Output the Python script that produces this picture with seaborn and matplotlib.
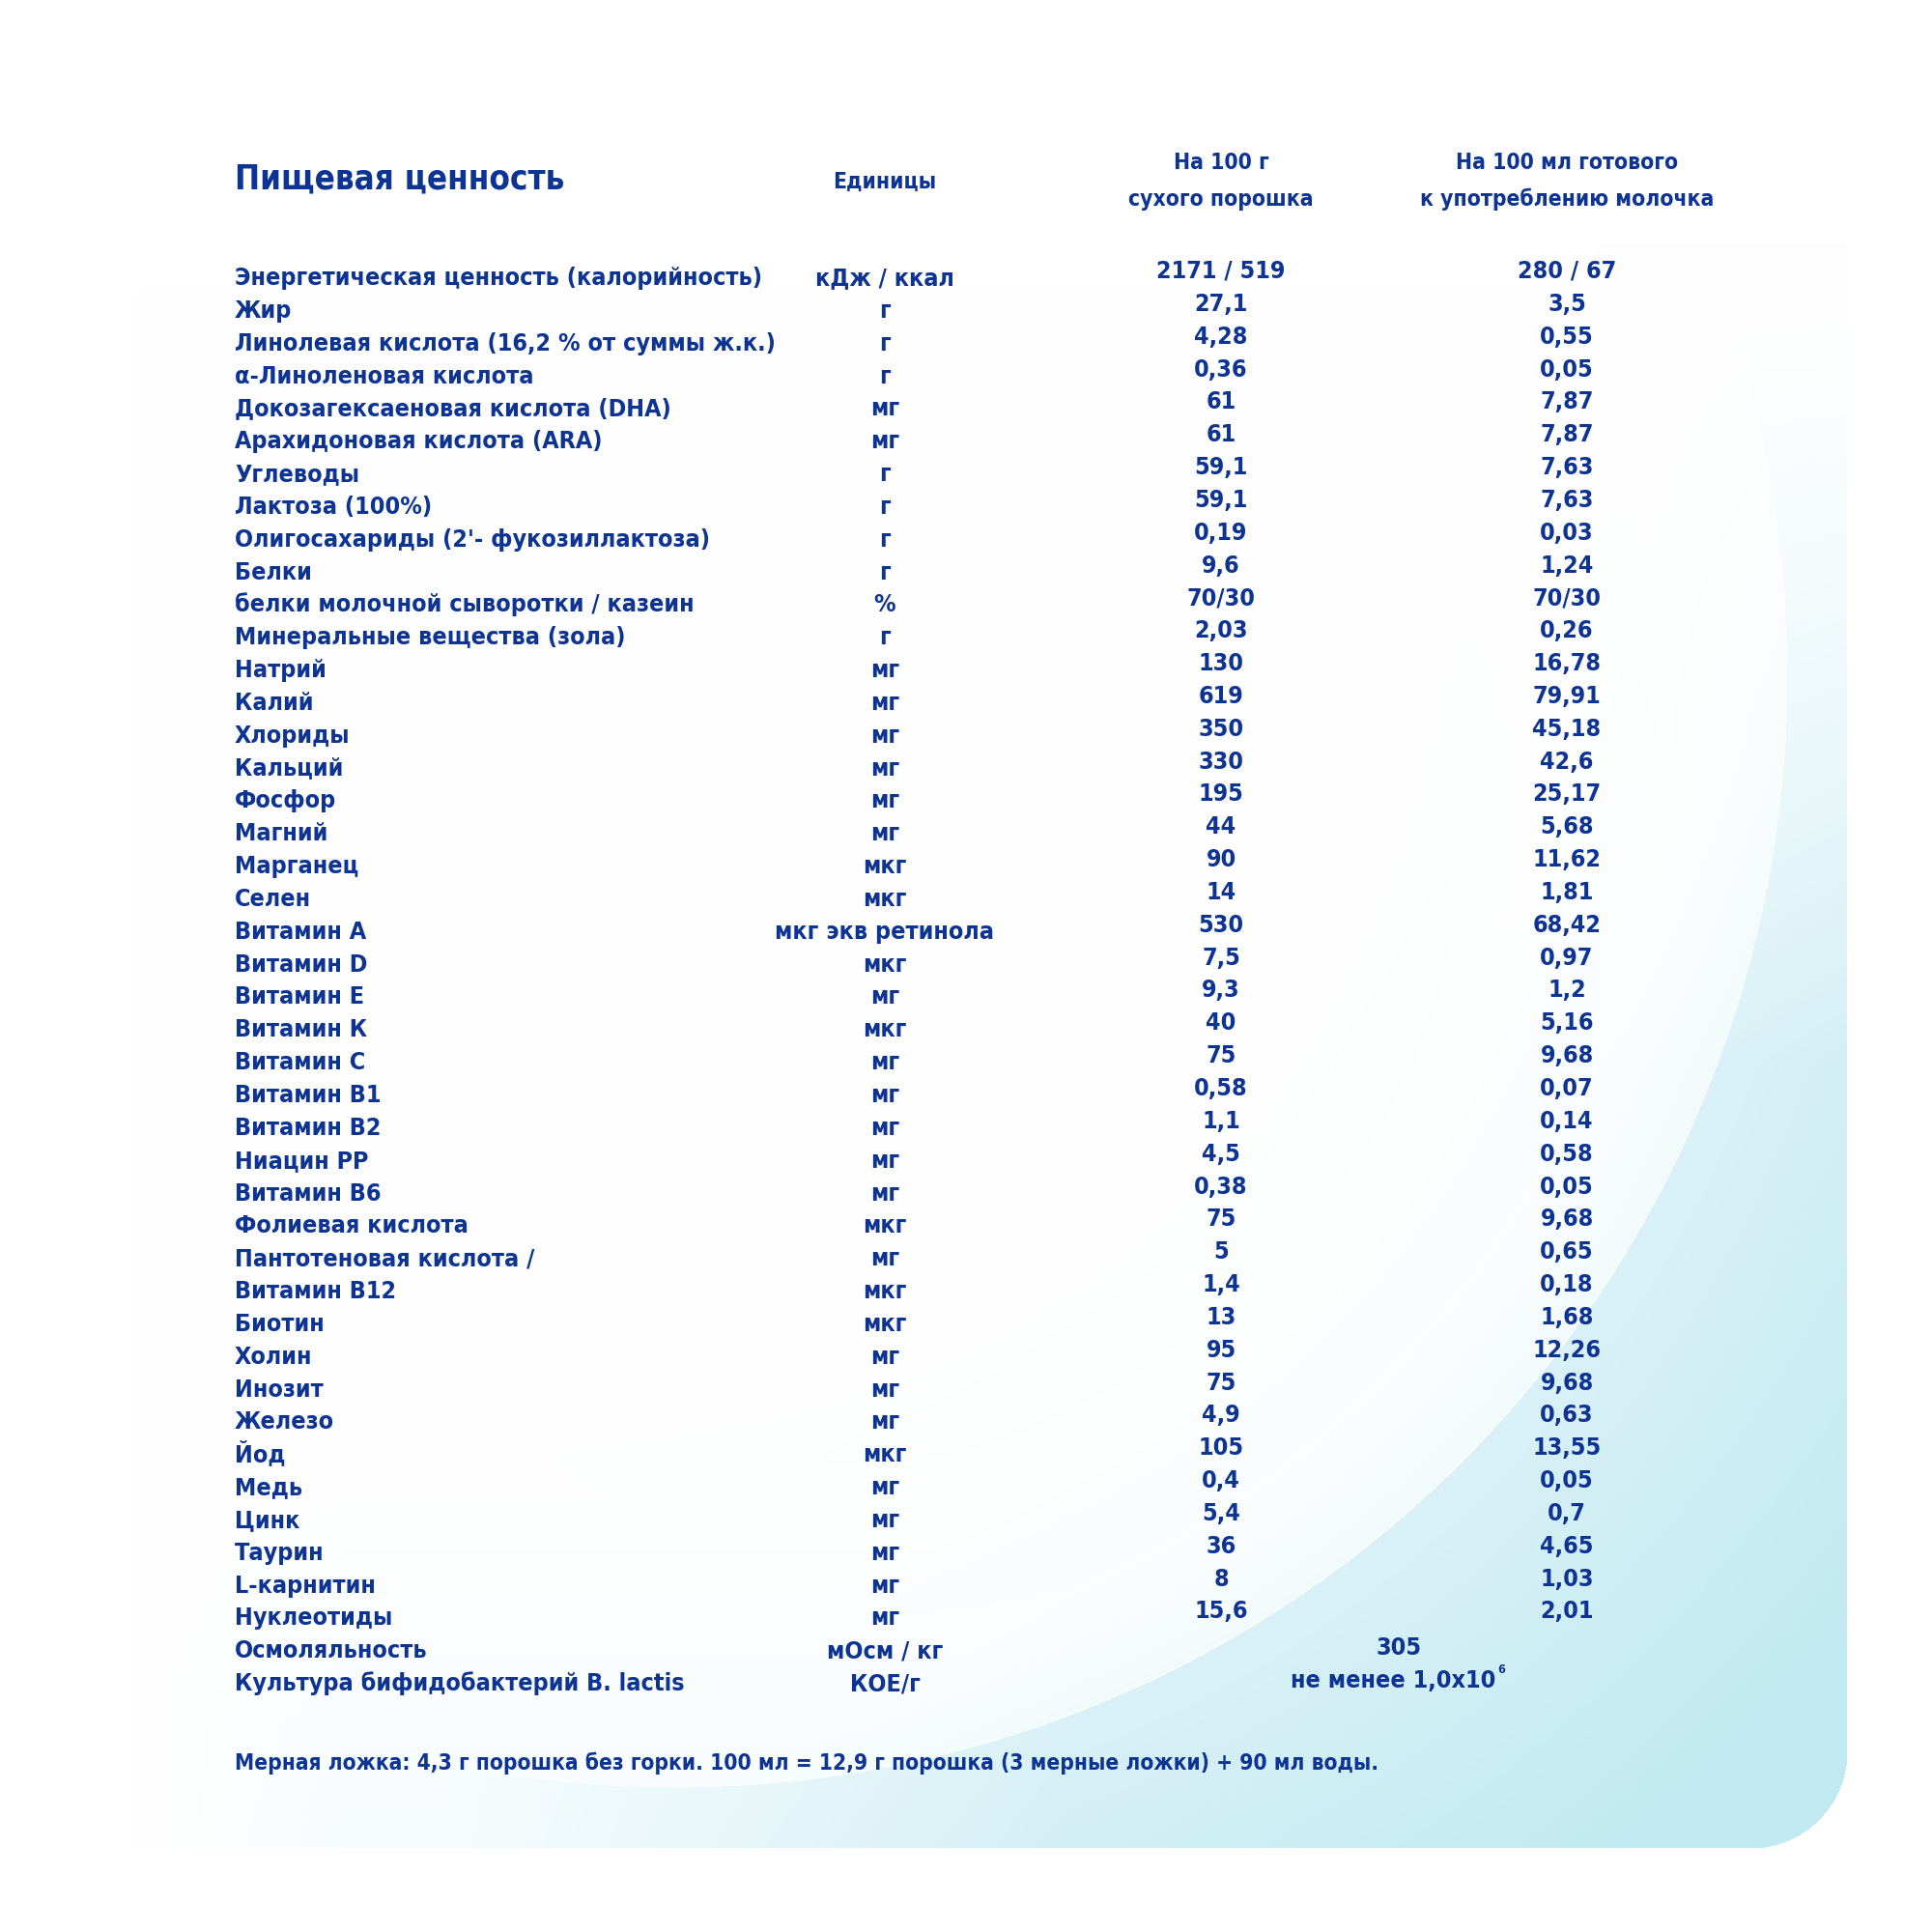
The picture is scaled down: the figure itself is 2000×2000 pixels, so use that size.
import os
import numpy as np
import pandas as pd
import matplotlib
matplotlib.use("Agg")
import matplotlib.pyplot as plt
import matplotlib.font_manager as fm
import seaborn as sns

# ---------------- data ----------------
title = "Пищевая ценность"
header_units = "Единицы"
header_dry = ["На 100 г", "сухого порошка"]
header_ready = ["На 100 мл готового", "к употреблению молочка"]

nutrients = [
    "Энергетическая ценность (калорийность)", "Жир",
    "Линолевая кислота (16,2 % от суммы ж.к.)", "α-Линоленовая кислота",
    "Докозагексаеновая кислота (DHA)", "Арахидоновая кислота (ARA)",
    "Углеводы", "Лактоза (100%)", "Олигосахариды (2'- фукозиллактоза)",
    "Белки", "белки молочной сыворотки / казеин", "Минеральные вещества (зола)",
    "Натрий", "Калий", "Хлориды", "Кальций", "Фосфор", "Магний", "Марганец",
    "Селен", "Витамин А", "Витамин D", "Витамин Е", "Витамин К", "Витамин С",
    "Витамин В1", "Витамин В2", "Ниацин РР", "Витамин В6", "Фолиевая кислота",
    "Пантотеновая кислота /", "Витамин В12", "Биотин", "Холин", "Инозит",
    "Железо", "Йод", "Медь", "Цинк", "Таурин", "L-карнитин", "Нуклеотиды",
    "Осмоляльность", "Культура бифидобактерий B. lactis",
]
units = [
    "кДж / ккал", "г", "г", "г", "мг", "мг", "г", "г", "г", "г", "%", "г",
    "мг", "мг", "мг", "мг", "мг", "мг", "мкг", "мкг", "мкг экв ретинола",
    "мкг", "мг", "мкг", "мг", "мг", "мг", "мг", "мг", "мкг", "мг", "мкг",
    "мкг", "мг", "мг", "мг", "мкг", "мг", "мг", "мг", "мг", "мг",
    "мОсм / кг", "КОЕ/г",
]
per_100g = [
    "2171 / 519", "27,1", "4,28", "0,36", "61", "61", "59,1", "59,1", "0,19",
    "9,6", "70/30", "2,03", "130", "619", "350", "330", "195", "44", "90",
    "14", "530", "7,5", "9,3", "40", "75", "0,58", "1,1", "4,5", "0,38", "75",
    "5", "1,4", "13", "95", "75", "4,9", "105", "0,4", "5,4", "36", "8", "15,6",
]
per_100ml = [
    "280 / 67", "3,5", "0,55", "0,05", "7,87", "7,87", "7,63", "7,63", "0,03",
    "1,24", "70/30", "0,26", "16,78", "79,91", "45,18", "42,6", "25,17",
    "5,68", "11,62", "1,81", "68,42", "0,97", "1,2", "5,16", "9,68", "0,07",
    "0,14", "0,58", "0,05", "9,68", "0,65", "0,18", "1,68", "12,26", "9,68",
    "0,63", "13,55", "0,05", "0,7", "4,65", "1,03", "2,01",
]
osmolality = "305"
bifido_text, bifido_exp = "не менее 1,0x10", "6"
footnote = ("Мерная ложка: 4,3 г порошка без горки. 100 мл = 12,9 г порошка "
            "(3 мерные ложки) + 90 мл воды.")

n_main = len(per_100g)
table = pd.DataFrame({
    "nutrient": nutrients,
    "unit": units,
    "dry": per_100g + [""] * (len(nutrients) - n_main),
    "ready": per_100ml + [""] * (len(nutrients) - n_main),
})

# ---------------- style ----------------
sns.set_theme(style="white")


def _w(v):
    if isinstance(v, str):
        return fm.weight_dict.get(v, 400)
    return int(v)


# pick a bold condensed / narrow face if one is installed
best = None
for f in fm.fontManager.ttflist:
    key = (f.name + " " + os.path.basename(f.fname)).lower()
    narrow = ("condensed" in key or "narrow" in key
              or f.stretch in ("condensed", "semi-condensed"))
    if not narrow or "extra" in key or "ultra" in key or f.style != "normal":
        continue
    score = abs(_w(f.weight) - 700)
    if best is None or score < best[0]:
        best = (score, f)

if best is not None:
    MAIN, WEIGHT, STRETCH = best[1].name, best[1].weight, best[1].stretch
else:
    MAIN, WEIGHT, STRETCH = "Roboto", "bold", "normal"
FAM = [MAIN, "DejaVu Sans"]
plt.rcParams["font.family"] = FAM
BLUE = "#0d3493"
TXT = dict(color=BLUE, family=FAM, fontweight=WEIGHT, fontstretch=STRETCH)

W = 2000
fig = plt.figure(figsize=(10, 10), dpi=200)
ax = fig.add_axes([0, 0, 1, 1])
ax.set_xlim(0, W)
ax.set_ylim(W, 0)
ax.axis("off")
renderer = fig.canvas.get_renderer()


def fitted_size(sample, target_px, base=10.0):
    t = ax.text(0, 0, sample, fontsize=base, **TXT)
    wpx = t.get_window_extent(renderer).width
    t.remove()
    return base * target_px / wpx


# ---------------- background ----------------
yy, xx = np.mgrid[0:W, 0:W].astype(float)
cx, cy, r = 700.0, 700.0, 1150.0
d = np.hypot(xx - cx, yy - cy) - r
t = np.where(d > 0, 0.6 + 0.4 * np.clip(d / 450.0, 0, 1),
             0.2 * np.exp(d / 90.0))
t += 0.05 * np.exp(-((d + 170) / 40.0) ** 2) + 0.04 * np.exp(-((d + 330) / 60.0) ** 2)
t *= np.clip((yy - 300) / 800.0, 0, 1) ** 1.3
t *= 0.15 + 0.85 * np.clip((xx - 450) / 650.0, 0, 1) ** 0.9
t = np.maximum(t, 0.12 * np.clip((yy - 1500) / 400.0, 0, 1))
t = np.maximum(t, 0.10 * np.clip((xx - 1650) / 250.0, 0, 1) * np.clip((yy - 250) / 500.0, 0, 1))
t *= np.clip((xx - 140) / 220.0, 0, 1)
right, bottom, rad = 1912.0, 1913.0, 100.0
mask = (xx < right) & (yy < bottom)
corner = (xx > right - rad) & (yy > bottom - rad)
mask &= ~(corner & (np.hypot(xx - (right - rad), yy - (bottom - rad)) > rad))
t = np.clip(t, 0, 1) * mask
cyan = np.array([192, 233, 241]) / 255.0
img = 1 - t[..., None] * (1 - cyan)
ax.imshow(img, extent=[0, W, W, 0], interpolation="bilinear", zorder=0)

# ---------------- layout ----------------
x_label, x_unit, x_dry, x_ready, x_merge = 243, 916, 1264, 1622, 1448
y0_label, y0_value, dy = 295.0, 288.0, 33.84

fs = fitted_size(nutrients[0], 487) * 1.12
fs_title = fitted_size(title, 325) * 1.05
fs_head = fitted_size(header_ready[1], 295) * 1.03
fs_foot = fitted_size(footnote, 1180)

ax.text(x_label, 195, title, fontsize=fs_title, ha="left", va="baseline", **TXT)
ax.text(x_unit, 195, header_units, fontsize=fs_head, ha="center", va="baseline", **TXT)
for k, line in enumerate(header_dry):
    ax.text(x_dry, 175 + 38 * k, line, fontsize=fs_head, ha="center",
            va="baseline", **TXT)
for k, line in enumerate(header_ready):
    ax.text(x_ready, 175 + 38 * k, line, fontsize=fs_head, ha="center",
            va="baseline", **TXT)

for i, row in table.iterrows():
    yb = y0_label + dy * i
    yv = y0_value + dy * i
    ax.text(x_label, yb, row["nutrient"], fontsize=fs, ha="left",
            va="baseline", **TXT)
    ax.text(x_unit, yb, row["unit"], fontsize=fs, ha="center",
            va="baseline", **TXT)
    if i < n_main:
        ax.text(x_dry, yv, row["dry"], fontsize=fs, ha="center",
                va="baseline", **TXT)
        ax.text(x_ready, yv, row["ready"], fontsize=fs, ha="center",
                va="baseline", **TXT)

# merged cells
i_osm = len(nutrients) - 2
ax.text(x_merge, y0_label + dy * i_osm - 3, osmolality, fontsize=fs,
        ha="center", va="baseline", **TXT)
yb = y0_label + dy * (i_osm + 1) - 3
tb = ax.text(x_merge - 6, yb, bifido_text, fontsize=fs, ha="center",
             va="baseline", **TXT)
bb = tb.get_window_extent(renderer)
x_end = ax.transData.inverted().transform((bb.x1, bb.y0))[0]
ax.text(x_end + 2, yb - 15, bifido_exp, fontsize=fs * 0.5, ha="left",
        va="baseline", **TXT)

ax.text(x_label, 1832, footnote, fontsize=fs_foot, ha="left", va="baseline", **TXT)

fig.savefig("out.png", dpi=200, facecolor="white")
